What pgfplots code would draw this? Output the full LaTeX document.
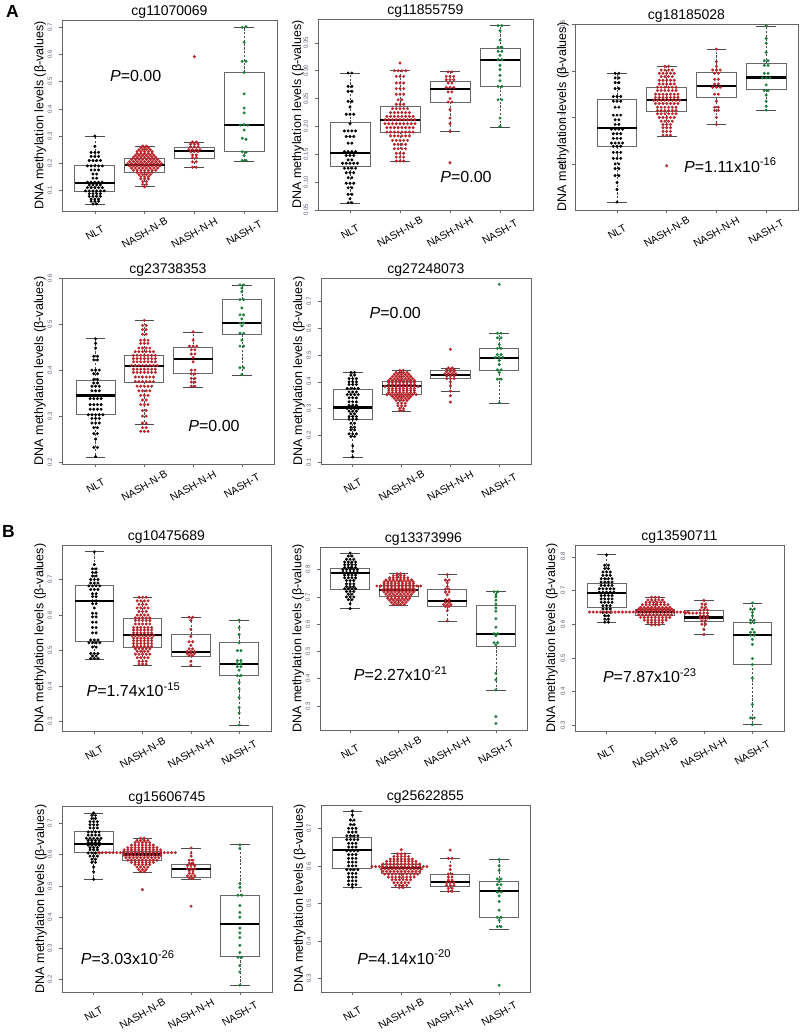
\documentclass[border=0pt]{standalone}
\usepackage{fontspec}
\setmainfont{Liberation Sans}
\usepackage{pgfplots}
\usepackage{pgfplotstable}
\usepgfplotslibrary{statistics}
\pgfplotsset{compat=1.18}
\definecolor{cR}{RGB}{185,36,42}
\definecolor{cG}{RGB}{28,125,60}
\definecolor{boxc}{RGB}{105,105,105}
\definecolor{tickc}{RGB}{90,90,115}
\pgfplotsset{
  table/row sep=\\,
  table/g/.style={x expr={#1+0.0375*\thisrow{k}},y=y},
  pN/.style={only marks,mark=*,mark size=1.3pt,color=black,mark options={solid,draw=none,fill=black}},
  pR/.style={only marks,mark=*,mark size=1.3pt,color=cR,mark options={solid,draw=none,fill=cR}},
  pG/.style={only marks,mark=*,mark size=1.3pt,color=cG,mark options={solid,draw=none,fill=cG}},
  bxs/.style={solid,mark=none,draw=boxc,boxplot/draw direction=y,boxplot/box extend=0.8,boxplot/whisker extend=0,
    boxplot/every box/.style={draw=boxc,line width=0.9pt},
    boxplot/every whisker/.style={draw=black!70,line width=0.6pt,dash pattern=on 2.2pt off 1.6pt},
    boxplot/every median/.style={draw=black,line width=2.2pt}},
  caps/.style={draw=black!70,line width=0.7pt,solid,mark=none,unbounded coords=jump},
  ylab/.style={ylabel style={at={(axis description cs:#1,0.5)}}},
  bp/.style={scale only axis,anchor=north west,clip=false,tick pos=left,
    axis line style={draw=black!60,line width=0.7pt},
    xtick={1,2,3,4},xticklabels={NLT,NASH-N-B,NASH-N-H,NASH-T},
    tick align=outside,major tick length=3pt,tick style={draw=black!60,line width=0.6pt},
    xticklabel style={font=\fontsize{10.5}{12}\selectfont,anchor=center,yshift=-19pt,rotate=30},
    yticklabel style={font=\fontsize{6}{7}\selectfont,text=tickc,xshift=-3.5pt,rotate=90,anchor=south,
      /pgf/number format/fixed,/pgf/number format/fixed zerofill,/pgf/number format/precision=1,/pgf/number format/assume math mode=true},
    ylabel={DNA methylation levels (β-values)},
    ylabel style={font=\fontsize{12.5}{14}\selectfont,anchor=center},
    every axis title/.style={font=\fontsize{14}{16}\selectfont,at={(axis description cs:0.5,1)},anchor=base,yshift=5pt},
  },
}
\newcommand\bx[6]{%
  \addplot[bxs,boxplot prepared={draw position=#1,lower whisker=#2,lower quartile=#3,median=#4,upper quartile=#5,upper whisker=#6}] coordinates {};
  \addplot[caps] table[x expr={#1+\thisrow{d}},y=y]{d y\\-.2 #2\\.2 #2\\0 nan\\-.2 #6\\.2 #6\\};
}
\newcommand\pv[3]{\node[font=\fontsize{16}{18}\selectfont] at (axis cs:#1,#2) {#3};}
\begin{document}
\begin{tikzpicture}
\useasboundingbox (0pt,0pt) rectangle (800pt,-1034pt);
\node[anchor=north west,inner sep=0pt,font=\fontsize{17.5}{18}\selectfont\bfseries] at (6pt,-5pt) {A};
\node[anchor=north west,inner sep=0pt,font=\fontsize{17.5}{18}\selectfont\bfseries] at (2pt,-525pt) {B};

% ---------- P1 ----------
\begin{axis}[bp,ylab=-0.102,at={(62pt,-20pt)},width=215pt,height=191pt,xmin=.34,xmax=4.66,ymin=.024,ymax=.727,ytick={.1,.2,.3,.4,.5,.6,.7},title={cg11070069}]
\addplot[pN] table[g=1]{k y\\0 .300\\0 .262\\-2 .240\\0 .240\\2 .240\\-2 .225\\0 .225\\2 .225\\-3 .210\\-1 .210\\1 .210\\3 .210\\-4 .190\\-2 .190\\0 .190\\2 .190\\4 .190\\-2 .175\\0 .175\\2 .175\\-1 .160\\1 .160\\-1 .145\\1 .145\\-4 .130\\-2 .130\\0 .130\\2 .130\\4 .130\\-3 .120\\-1 .120\\1 .120\\3 .120\\-4 .110\\-2 .110\\0 .110\\2 .110\\4 .110\\-5 .098\\-3 .098\\-1 .098\\1 .098\\3 .098\\5 .098\\-3 .088\\-1 .088\\1 .088\\3 .088\\-3 .078\\-1 .078\\1 .078\\3 .078\\-2 .068\\0 .068\\2 .068\\-2 .060\\0 .060\\2 .060\\-1 .050\\1 .050\\};
\addplot[pR] table[g=2]{k y\\-1 .263\\1 .263\\-2 .257\\0 .257\\2 .257\\-3 .250\\-1 .250\\1 .250\\3 .250\\-4 .243\\-2 .243\\0 .243\\2 .243\\4 .243\\-4 .236\\-2 .236\\0 .236\\2 .236\\4 .236\\-5 .229\\-3 .229\\-1 .229\\1 .229\\3 .229\\5 .229\\-6 .222\\-4 .222\\-2 .222\\0 .222\\2 .222\\4 .222\\6 .222\\-7 .214\\-5 .214\\-3 .214\\-1 .214\\1 .214\\3 .214\\5 .214\\7 .214\\-8 .206\\-6 .206\\-4 .206\\-2 .206\\0 .206\\2 .206\\4 .206\\6 .206\\8 .206\\-9 .198\\-7 .198\\-5 .198\\-3 .198\\-1 .198\\1 .198\\3 .198\\5 .198\\7 .198\\9 .198\\-8 .190\\-6 .190\\-4 .190\\-2 .190\\0 .190\\2 .190\\4 .190\\6 .190\\8 .190\\-7 .182\\-5 .182\\-3 .182\\-1 .182\\1 .182\\3 .182\\5 .182\\7 .182\\-6 .174\\-4 .174\\-2 .174\\0 .174\\2 .174\\4 .174\\6 .174\\-4 .166\\-2 .166\\0 .166\\2 .166\\4 .166\\-3 .158\\-1 .158\\1 .158\\3 .158\\-2 .150\\0 .150\\2 .150\\-2 .142\\0 .142\\2 .142\\-1 .132\\1 .132\\-1 .122\\1 .122\\0 .113\\};
\addplot[pR] table[g=3]{k y\\0 .592\\-1 .278\\1 .278\\-2 .270\\0 .270\\2 .270\\-2 .260\\0 .260\\2 .260\\-3 .250\\-1 .250\\1 .250\\3 .250\\-2 .242\\0 .242\\2 .242\\-1 .230\\1 .230\\-1 .220\\1 .220\\-1 .205\\1 .205\\-1 .185\\1 .185\\};
\addplot[pG] table[g=4]{k y\\-1 .700\\1 .702\\0 .645\\-1 .575\\1 .575\\0 .534\\0 .455\\0 .403\\0 .385\\-2 .340\\0 .342\\2 .340\\0 .322\\-1 .292\\1 .288\\-1 .242\\1 .240\\0 .228\\-1 .210\\1 .210\\};
\bx{1}{.048}{.0975}{.128}{.190}{.300}
\bx{2}{.113}{.166}{.194}{.217}{.263}
\bx{3}{.185}{.218}{.245}{.258}{.278}
\bx{4}{.205}{.2435}{.340}{.534}{.700}
\pv{1.82}{.522}{\textit{P}=0.00}
\end{axis}

% ---------- P2 ----------
\begin{axis}[bp,ylab=-0.093,at={(318pt,-19pt)},width=215pt,height=191pt,xmin=.36,xmax=4.66,ymin=.050,ymax=.393,ytick={.05,.10,.15,.20,.25,.30,.35},yticklabel style={/pgf/number format/precision=2},title={cg11855759}]
\addplot[pN] table[g=1]{k y\\-1 .296\\1 .296\\-1 .272\\1 .272\\-1 .263\\1 .263\\-1 .245\\1 .245\\0 .235\\-2 .222\\0 .222\\2 .222\\0 .205\\-3 .192\\-1 .192\\1 .192\\3 .192\\-2 .182\\0 .182\\2 .182\\-1 .170\\1 .170\\-3 .155\\-1 .155\\1 .155\\3 .155\\-2 .148\\0 .148\\2 .148\\-1 .140\\1 .140\\-4 .134\\-2 .134\\0 .134\\2 .134\\4 .134\\-3 .125\\-1 .125\\1 .125\\3 .125\\-2 .117\\0 .117\\2 .117\\-1 .108\\1 .108\\-2 .098\\0 .098\\2 .098\\-1 .090\\1 .090\\-1 .078\\1 .078\\0 .070\\-1 .063\\1 .063\\};
\addplot[pR] table[g=2]{k y\\0 .314\\-3 .300\\-1 .300\\1 .300\\3 .300\\-2 .290\\0 .290\\2 .290\\-2 .278\\0 .278\\2 .278\\-2 .268\\0 .268\\2 .268\\-2 .258\\0 .258\\2 .258\\-1 .248\\1 .248\\-2 .240\\0 .240\\2 .240\\-4 .232\\-2 .232\\0 .232\\2 .232\\4 .232\\-5 .225\\-3 .225\\-1 .225\\1 .225\\3 .225\\5 .225\\-7 .218\\-5 .218\\-3 .218\\-1 .218\\1 .218\\3 .218\\5 .218\\7 .218\\-8 .212\\-6 .212\\-4 .212\\-2 .212\\0 .212\\2 .212\\4 .212\\6 .212\\8 .212\\-8 .205\\-6 .205\\-4 .205\\-2 .205\\0 .205\\2 .205\\4 .205\\6 .205\\8 .205\\-7 .198\\-5 .198\\-3 .198\\-1 .198\\1 .198\\3 .198\\5 .198\\7 .198\\-7 .190\\-5 .190\\-3 .190\\-1 .190\\1 .190\\3 .190\\5 .190\\7 .190\\-5 .183\\-3 .183\\-1 .183\\1 .183\\3 .183\\5 .183\\-4 .175\\-2 .175\\0 .175\\2 .175\\4 .175\\-3 .168\\-1 .168\\1 .168\\3 .168\\-3 .160\\-1 .160\\1 .160\\3 .160\\-2 .152\\0 .152\\2 .152\\-2 .145\\0 .145\\2 .145\\-2 .138\\0 .138\\2 .138\\};
\addplot[pR] table[g=3]{k y\\-1 .298\\1 .298\\-2 .290\\0 .290\\2 .290\\-2 .284\\0 .284\\2 .284\\-1 .278\\1 .278\\-2 .270\\0 .270\\2 .270\\-1 .262\\1 .262\\0 .250\\-1 .244\\1 .244\\0 .230\\0 .215\\0 .205\\0 .191\\0 .135\\};
\addplot[pG] table[g=4]{k y\\-1 .381\\1 .381\\0 .372\\0 .355\\-1 .342\\1 .342\\-1 .335\\1 .335\\0 .328\\-1 .320\\1 .320\\0 .310\\0 .302\\0 .292\\0 .282\\-1 .272\\1 .272\\-1 .248\\1 .248\\0 .215\\0 .200\\};
\bx{1}{.062}{.128}{.152}{.207}{.296}
\bx{2}{.137}{.190}{.211}{.236}{.301}
\bx{3}{.191}{.244}{.267}{.281}{.299}
\bx{4}{.199}{.272}{.319}{.341}{.381}
\pv{3.32}{.109}{\textit{P}=0.00}
\end{axis}

% ---------- P3 ----------
\begin{axis}[bp,ylab=-0.054,at={(575pt,-24pt)},width=223pt,height=186pt,xmin=.155,xmax=4.64,ymin=.101,ymax=.501,ytick={.2,.3,.4,.5},title={cg18185028}]
\addplot[pN] table[g=1]{k y\\-1 .395\\1 .395\\-1 .385\\1 .385\\-1 .375\\1 .375\\-1 .362\\1 .362\\-2 .345\\0 .345\\2 .345\\-2 .335\\0 .335\\2 .335\\-1 .322\\1 .322\\-2 .305\\0 .305\\2 .305\\-1 .295\\1 .295\\-1 .285\\1 .285\\-3 .275\\-1 .275\\1 .275\\3 .275\\-2 .265\\0 .265\\2 .265\\-2 .255\\0 .255\\2 .255\\-3 .245\\-1 .245\\1 .245\\3 .245\\-2 .238\\0 .238\\2 .238\\-2 .225\\0 .225\\2 .225\\-2 .212\\0 .212\\2 .212\\-1 .200\\1 .200\\-1 .190\\1 .190\\-1 .175\\1 .175\\0 .160\\0 .145\\0 .118\\};
\addplot[pR] table[g=2]{k y\\-1 .410\\1 .410\\-3 .402\\-1 .402\\1 .402\\3 .402\\-4 .395\\-2 .395\\0 .395\\2 .395\\4 .395\\-3 .388\\-1 .388\\1 .388\\3 .388\\-4 .380\\-2 .380\\0 .380\\2 .380\\4 .380\\-4 .372\\-2 .372\\0 .372\\2 .372\\4 .372\\-5 .365\\-3 .365\\-1 .365\\1 .365\\3 .365\\5 .365\\-5 .358\\-3 .358\\-1 .358\\1 .358\\3 .358\\5 .358\\-6 .350\\-4 .350\\-2 .350\\0 .350\\2 .350\\4 .350\\6 .350\\-6 .343\\-4 .343\\-2 .343\\0 .343\\2 .343\\4 .343\\6 .343\\-7 .337\\-5 .337\\-3 .337\\-1 .337\\1 .337\\3 .337\\5 .337\\7 .337\\-6 .330\\-4 .330\\-2 .330\\0 .330\\2 .330\\4 .330\\6 .330\\-5 .322\\-3 .322\\-1 .322\\1 .322\\3 .322\\5 .322\\-5 .315\\-3 .315\\-1 .315\\1 .315\\3 .315\\5 .315\\-5 .308\\-3 .308\\-1 .308\\1 .308\\3 .308\\5 .308\\-4 .300\\-2 .300\\0 .300\\2 .300\\4 .300\\-3 .292\\-1 .292\\1 .292\\3 .292\\-2 .285\\0 .285\\2 .285\\-2 .278\\0 .278\\2 .278\\-2 .270\\0 .270\\2 .270\\-2 .262\\0 .262\\2 .262\\0 .196\\};
\addplot[pR] table[g=3]{k y\\0 .447\\0 .420\\0 .410\\-2 .402\\0 .402\\2 .402\\-1 .395\\1 .395\\-1 .382\\1 .382\\-1 .372\\1 .372\\-2 .365\\0 .365\\2 .365\\-1 .350\\1 .350\\0 .335\\-1 .322\\1 .322\\-1 .315\\1 .315\\0 .300\\0 .285\\};
\addplot[pG] table[g=4]{k y\\0 .497\\0 .470\\0 .460\\0 .440\\-1 .422\\1 .422\\-1 .412\\1 .412\\-1 .395\\1 .395\\-2 .385\\0 .385\\2 .385\\0 .370\\-1 .358\\1 .358\\0 .348\\0 .335\\0 .324\\0 .316\\};
\bx{1}{.118}{.237}{.277}{.339}{.395}
\bx{2}{.259}{.314}{.337}{.365}{.410}
\bx{3}{.285}{.342}{.368}{.396}{.447}
\bx{4}{.316}{.360}{.386}{.416}{.497}
\pv{3.28}{.194}{\textit{P}=1.11x10\smash{\textsuperscript{-16}}}
\end{axis}

% ---------- P4 ----------
\begin{axis}[bp,ylab=-0.104,at={(62pt,-278pt)},width=212pt,height=186pt,xmin=.31,xmax=4.66,ymin=.196,ymax=.600,ytick={.2,.3,.4,.5,.6},title={cg23738353}]
\addplot[pN] table[g=1]{k y\\0 .468\\0 .458\\0 .448\\-1 .430\\1 .430\\-1 .422\\1 .422\\-2 .400\\0 .400\\2 .400\\-1 .392\\1 .392\\-1 .380\\1 .380\\-1 .372\\1 .372\\-2 .365\\0 .365\\2 .365\\-2 .355\\0 .355\\2 .355\\-4 .345\\-2 .345\\0 .345\\2 .345\\4 .345\\-3 .338\\-1 .338\\1 .338\\3 .338\\-3 .325\\-1 .325\\1 .325\\3 .325\\-3 .315\\-1 .315\\1 .315\\3 .315\\-4 .303\\-2 .303\\0 .303\\2 .303\\4 .303\\-2 .295\\0 .295\\2 .295\\-2 .285\\0 .285\\2 .285\\-1 .275\\1 .275\\-1 .262\\1 .262\\0 .250\\-1 .232\\1 .232\\0 .212\\};
\addplot[pR] table[g=2]{k y\\0 .508\\-1 .497\\1 .497\\-1 .488\\1 .488\\-1 .478\\1 .478\\-2 .465\\0 .465\\2 .465\\-2 .458\\0 .458\\2 .458\\-3 .448\\-1 .448\\1 .448\\3 .448\\-5 .440\\-3 .440\\-1 .440\\1 .440\\3 .440\\5 .440\\-6 .432\\-4 .432\\-2 .432\\0 .432\\2 .432\\4 .432\\6 .432\\-6 .425\\-4 .425\\-2 .425\\0 .425\\2 .425\\4 .425\\6 .425\\-6 .418\\-4 .418\\-2 .418\\0 .418\\2 .418\\4 .418\\6 .418\\-7 .410\\-5 .410\\-3 .410\\-1 .410\\1 .410\\3 .410\\5 .410\\7 .410\\-6 .402\\-4 .402\\-2 .402\\0 .402\\2 .402\\4 .402\\6 .402\\-6 .395\\-4 .395\\-2 .395\\0 .395\\2 .395\\4 .395\\6 .395\\-5 .385\\-3 .385\\-1 .385\\1 .385\\3 .385\\5 .385\\-5 .375\\-3 .375\\-1 .375\\1 .375\\3 .375\\5 .375\\-4 .365\\-2 .365\\0 .365\\2 .365\\4 .365\\-3 .355\\-1 .355\\1 .355\\3 .355\\-2 .345\\0 .345\\2 .345\\-1 .335\\1 .335\\-2 .325\\0 .325\\2 .325\\-1 .312\\1 .312\\-1 .300\\1 .300\\-1 .285\\1 .285\\-1 .275\\1 .275\\-2 .267\\0 .267\\2 .267\\};
\addplot[pR] table[g=3]{k y\\0 .483\\0 .465\\-2 .452\\0 .452\\2 .452\\-1 .444\\1 .444\\-1 .435\\1 .435\\0 .427\\0 .418\\-1 .400\\1 .400\\-1 .392\\1 .392\\-1 .382\\1 .382\\-1 .374\\1 .374\\-1 .365\\1 .365\\};
\addplot[pG] table[g=4]{k y\\-1 .585\\1 .585\\0 .578\\0 .570\\-1 .553\\1 .553\\0 .535\\-1 .520\\1 .520\\0 .511\\-1 .502\\1 .502\\0 .496\\-1 .480\\1 .480\\0 .465\\-1 .452\\1 .452\\-1 .405\\1 .405\\0 .390\\};
\bx{1}{.211}{.303}{.345}{.378}{.468}
\bx{2}{.283}{.374}{.409}{.432}{.508}
\bx{3}{.363}{.392}{.424}{.449}{.483}
\bx{4}{.389}{.477}{.502}{.553}{.585}
\pv{3.43}{.278}{\textit{P}=0.00}
\end{axis}

% ---------- P5 ----------
\begin{axis}[bp,ylab=-0.105,at={(321pt,-278pt)},width=210pt,height=186pt,xmin=.35,xmax=4.65,ymin=.092,ymax=.789,ytick={.1,.2,.3,.4,.5,.6,.7},title={cg27248073}]
\addplot[pN] table[g=1]{k y\\-1 .435\\1 .435\\-1 .425\\1 .425\\-2 .412\\0 .412\\2 .412\\-2 .400\\0 .400\\2 .400\\-2 .390\\0 .390\\2 .390\\-3 .375\\-1 .375\\1 .375\\3 .375\\-2 .362\\0 .362\\2 .362\\-3 .352\\-1 .352\\1 .352\\3 .352\\-2 .340\\0 .340\\2 .340\\-2 .325\\0 .325\\2 .325\\-2 .312\\0 .312\\2 .312\\-3 .300\\-1 .300\\1 .300\\3 .300\\-2 .290\\0 .290\\2 .290\\-1 .280\\1 .280\\-2 .270\\0 .270\\2 .270\\-2 .260\\0 .260\\2 .260\\-1 .245\\1 .245\\-1 .230\\1 .230\\-1 .220\\1 .220\\-2 .205\\0 .205\\2 .205\\-1 .195\\1 .195\\0 .160\\0 .140\\0 .118\\};
\addplot[pR] table[g=2]{k y\\-1 .443\\1 .443\\-3 .435\\-1 .435\\1 .435\\3 .435\\-4 .428\\-2 .428\\0 .428\\2 .428\\4 .428\\-5 .420\\-3 .420\\-1 .420\\1 .420\\3 .420\\5 .420\\-6 .412\\-4 .412\\-2 .412\\0 .412\\2 .412\\4 .412\\6 .412\\-7 .405\\-5 .405\\-3 .405\\-1 .405\\1 .405\\3 .405\\5 .405\\7 .405\\-7 .398\\-5 .398\\-3 .398\\-1 .398\\1 .398\\3 .398\\5 .398\\7 .398\\-7 .390\\-5 .390\\-3 .390\\-1 .390\\1 .390\\3 .390\\5 .390\\7 .390\\-9 .383\\-7 .383\\-5 .383\\-3 .383\\-1 .383\\1 .383\\3 .383\\5 .383\\7 .383\\9 .383\\-7 .375\\-5 .375\\-3 .375\\-1 .375\\1 .375\\3 .375\\5 .375\\7 .375\\-7 .368\\-5 .368\\-3 .368\\-1 .368\\1 .368\\3 .368\\5 .368\\7 .368\\-7 .360\\-5 .360\\-3 .360\\-1 .360\\1 .360\\3 .360\\5 .360\\7 .360\\-8 .352\\-6 .352\\-4 .352\\-2 .352\\0 .352\\2 .352\\4 .352\\6 .352\\8 .352\\-5 .345\\-3 .345\\-1 .345\\1 .345\\3 .345\\5 .345\\-4 .338\\-2 .338\\0 .338\\2 .338\\4 .338\\-3 .330\\-1 .330\\1 .330\\3 .330\\-2 .320\\0 .320\\2 .320\\-2 .310\\0 .310\\2 .310\\-1 .300\\1 .300\\-1 .292\\1 .292\\};
\addplot[pR] table[g=3]{k y\\0 .522\\-1 .452\\1 .452\\-2 .445\\0 .445\\2 .445\\-2 .438\\0 .438\\2 .438\\-3 .430\\-1 .430\\1 .430\\3 .430\\-2 .422\\0 .422\\2 .422\\-2 .412\\0 .412\\2 .412\\0 .400\\0 .385\\0 .365\\0 .348\\0 .324\\};
\addplot[pG] table[g=4]{k y\\0 .765\\-1 .582\\1 .582\\-1 .565\\1 .565\\0 .540\\-1 .525\\1 .525\\-1 .502\\1 .502\\-2 .492\\0 .492\\2 .492\\0 .480\\0 .465\\-1 .445\\1 .445\\0 .435\\-1 .410\\1 .410\\0 .321\\};
\bx{1}{.116}{.258}{.304}{.372}{.435}
\bx{2}{.290}{.352}{.383}{.402}{.443}
\bx{3}{.365}{.411}{.425}{.443}{.452}
\bx{4}{.321}{.444}{.489}{.526}{.582}
\pv{1.87}{.659}{\textit{P}=0.00}
\end{axis}

% ---------- P6 ----------
\begin{axis}[bp,ylab=-0.105,at={(62pt,-545pt)},width=209pt,height=186pt,xmin=.33,xmax=4.66,ymin=.274,ymax=.797,ytick={.3,.4,.5,.6,.7},title={cg10475689}]
\addplot[pN] table[g=1]{k y\\0 .778\\0 .742\\-1 .730\\1 .730\\-1 .720\\1 .720\\-1 .710\\1 .710\\-2 .700\\0 .700\\2 .700\\-2 .690\\0 .690\\2 .690\\-3 .682\\-1 .682\\1 .682\\3 .682\\-2 .672\\0 .672\\2 .672\\-1 .660\\1 .660\\-1 .652\\1 .652\\-1 .640\\1 .640\\-1 .632\\1 .632\\0 .620\\-1 .605\\1 .605\\-1 .595\\1 .595\\-1 .580\\1 .580\\-1 .565\\1 .565\\-1 .550\\1 .550\\-2 .530\\0 .530\\2 .530\\-3 .522\\-1 .522\\1 .522\\3 .522\\-1 .510\\1 .510\\-2 .492\\0 .492\\2 .492\\-1 .485\\1 .485\\-2 .478\\0 .478\\2 .478\\};
\addplot[pR] table[g=2]{k y\\-2 .650\\0 .650\\2 .650\\-3 .640\\-1 .640\\1 .640\\3 .640\\-2 .630\\0 .630\\2 .630\\-3 .620\\-1 .620\\1 .620\\3 .620\\-2 .610\\0 .610\\2 .610\\-3 .600\\-1 .600\\1 .600\\3 .600\\-4 .592\\-2 .592\\0 .592\\2 .592\\4 .592\\-4 .585\\-2 .585\\0 .585\\2 .585\\4 .585\\-4 .575\\-2 .575\\0 .575\\2 .575\\4 .575\\-5 .565\\-3 .565\\-1 .565\\1 .565\\3 .565\\5 .565\\-5 .558\\-3 .558\\-1 .558\\1 .558\\3 .558\\5 .558\\-5 .550\\-3 .550\\-1 .550\\1 .550\\3 .550\\5 .550\\-6 .542\\-4 .542\\-2 .542\\0 .542\\2 .542\\4 .542\\6 .542\\-5 .535\\-3 .535\\-1 .535\\1 .535\\3 .535\\5 .535\\-5 .528\\-3 .528\\-1 .528\\1 .528\\3 .528\\5 .528\\-5 .520\\-3 .520\\-1 .520\\1 .520\\3 .520\\5 .520\\-5 .512\\-3 .512\\-1 .512\\1 .512\\3 .512\\5 .512\\-4 .505\\-2 .505\\0 .505\\2 .505\\4 .505\\-3 .498\\-1 .498\\1 .498\\3 .498\\-4 .490\\-2 .490\\0 .490\\2 .490\\4 .490\\-3 .480\\-1 .480\\1 .480\\3 .480\\-2 .470\\0 .470\\2 .470\\-2 .462\\0 .462\\2 .462\\};
\addplot[pR] table[g=3]{k y\\-1 .594\\1 .594\\0 .585\\0 .560\\0 .540\\-1 .525\\1 .525\\0 .515\\-1 .505\\1 .505\\-2 .498\\0 .498\\2 .498\\-2 .492\\0 .492\\2 .492\\-1 .486\\1 .486\\0 .470\\0 .458\\};
\addplot[pG] table[g=4]{k y\\0 .586\\0 .565\\0 .545\\0 .522\\-1 .500\\1 .500\\-1 .472\\1 .472\\-1 .464\\1 .464\\-1 .455\\1 .455\\0 .445\\-1 .430\\1 .430\\0 .410\\0 .392\\0 .368\\0 .340\\0 .325\\0 .291\\};
\bx{1}{.476}{.526}{.639}{.684}{.778}
\bx{2}{.459}{.509}{.544}{.591}{.651}
\bx{3}{.457}{.485}{.497}{.545}{.594}
\bx{4}{.291}{.431}{.462}{.523}{.586}
\pv{1.81}{.386}{\textit{P}=1.74x10\smash{\textsuperscript{-15}}}
\end{axis}

% ---------- P7 ----------
\begin{axis}[bp,ylab=-0.106,at={(320pt,-547pt)},width=207pt,height=183pt,xmin=.38,xmax=4.64,ymin=.212,ymax=.883,ytick={.3,.4,.5,.6,.7,.8},title={cg13373996}]
\addplot[pN] table[g=1]{k y\\0 .861\\-1 .850\\1 .850\\-2 .838\\0 .838\\2 .838\\-3 .828\\-1 .828\\1 .828\\3 .828\\-3 .818\\-1 .818\\1 .818\\3 .818\\-3 .808\\-1 .808\\1 .808\\3 .808\\-4 .800\\-2 .800\\0 .800\\2 .800\\4 .800\\-4 .790\\-2 .790\\0 .790\\2 .790\\4 .790\\-3 .780\\-1 .780\\1 .780\\3 .780\\-3 .770\\-1 .770\\1 .770\\3 .770\\-2 .760\\0 .760\\2 .760\\-2 .748\\0 .748\\2 .748\\-2 .738\\0 .738\\2 .738\\-3 .730\\-1 .730\\1 .730\\3 .730\\-2 .720\\0 .720\\2 .720\\-1 .710\\1 .710\\-2 .700\\0 .700\\2 .700\\-1 .690\\1 .690\\0 .675\\0 .657\\};
\addplot[pR] table[g=2]{k y\\-1 .785\\1 .785\\-3 .778\\-1 .778\\1 .778\\3 .778\\-5 .770\\-3 .770\\-1 .770\\1 .770\\3 .770\\5 .770\\-7 .762\\-5 .762\\-3 .762\\-1 .762\\1 .762\\3 .762\\5 .762\\7 .762\\-8 .755\\-6 .755\\-4 .755\\-2 .755\\0 .755\\2 .755\\4 .755\\6 .755\\8 .755\\-8 .748\\-6 .748\\-4 .748\\-2 .748\\0 .748\\2 .748\\4 .748\\6 .748\\8 .748\\-12 .740\\-10 .740\\-8 .740\\-6 .740\\-4 .740\\-2 .740\\0 .740\\2 .740\\4 .740\\6 .740\\8 .740\\10 .740\\12 .740\\-8 .732\\-6 .732\\-4 .732\\-2 .732\\0 .732\\2 .732\\4 .732\\6 .732\\8 .732\\-9 .725\\-7 .725\\-5 .725\\-3 .725\\-1 .725\\1 .725\\3 .725\\5 .725\\7 .725\\9 .725\\-8 .718\\-6 .718\\-4 .718\\-2 .718\\0 .718\\2 .718\\4 .718\\6 .718\\8 .718\\-7 .710\\-5 .710\\-3 .710\\-1 .710\\1 .710\\3 .710\\5 .710\\7 .710\\-6 .702\\-4 .702\\-2 .702\\0 .702\\2 .702\\4 .702\\6 .702\\-6 .695\\-4 .695\\-2 .695\\0 .695\\2 .695\\4 .695\\6 .695\\-5 .688\\-3 .688\\-1 .688\\1 .688\\3 .688\\5 .688\\-4 .680\\-2 .680\\0 .680\\2 .680\\4 .680\\-3 .672\\-1 .672\\1 .672\\3 .672\\};
\addplot[pR] table[g=3]{k y\\0 .782\\-1 .762\\1 .762\\0 .752\\0 .738\\-1 .728\\1 .728\\-1 .718\\1 .718\\0 .708\\-1 .690\\1 .690\\-1 .680\\1 .680\\-2 .672\\0 .672\\2 .672\\-1 .665\\1 .665\\0 .650\\0 .612\\};
\addplot[pG] table[g=4]{k y\\-1 .719\\1 .719\\0 .708\\0 .700\\0 .688\\0 .674\\0 .660\\0 .648\\0 .620\\0 .589\\-1 .565\\1 .565\\0 .558\\-1 .532\\1 .532\\0 .524\\0 .420\\0 .396\\0 .359\\0 .261\\0 .236\\};
\bx{1}{.657}{.729}{.788}{.806}{.861}
\bx{2}{.669}{.702}{.724}{.741}{.785}
\bx{3}{.612}{.665}{.686}{.726}{.782}
\bx{4}{.359}{.518}{.565}{.670}{.719}
\pv{2.04}{.414}{\textit{P}=2.27x10\smash{\textsuperscript{-21}}}
\end{axis}

% ---------- P8 ----------
\begin{axis}[bp,ylab=-0.11,at={(575pt,-545pt)},width=209pt,height=186pt,xmin=.35,xmax=4.65,ymin=.283,ymax=.835,ytick={.3,.4,.5,.6,.7,.8},title={cg13590711}]
\addplot[pN] table[g=1]{k y\\0 .806\\-1 .775\\1 .775\\-1 .765\\1 .765\\-2 .755\\0 .755\\2 .755\\-2 .745\\0 .745\\2 .745\\-3 .735\\-1 .735\\1 .735\\3 .735\\-3 .725\\-1 .725\\1 .725\\3 .725\\-3 .715\\-1 .715\\1 .715\\3 .715\\-4 .705\\-2 .705\\0 .705\\2 .705\\4 .705\\-4 .695\\-2 .695\\0 .695\\2 .695\\4 .695\\-3 .685\\-1 .685\\1 .685\\3 .685\\-3 .675\\-1 .675\\1 .675\\3 .675\\-3 .665\\-1 .665\\1 .665\\3 .665\\-2 .655\\0 .655\\2 .655\\-2 .645\\0 .645\\2 .645\\-2 .635\\0 .635\\2 .635\\-1 .625\\1 .625\\-1 .615\\1 .615\\-1 .606\\1 .606\\};
\addplot[pR] table[g=2]{k y\\-2 .680\\0 .680\\2 .680\\-4 .672\\-2 .672\\0 .672\\2 .672\\4 .672\\-5 .665\\-3 .665\\-1 .665\\1 .665\\3 .665\\5 .665\\-7 .658\\-5 .658\\-3 .658\\-1 .658\\1 .658\\3 .658\\5 .658\\7 .658\\-8 .650\\-6 .650\\-4 .650\\-2 .650\\0 .650\\2 .650\\4 .650\\6 .650\\8 .650\\-9 .645\\-7 .645\\-5 .645\\-3 .645\\-1 .645\\1 .645\\3 .645\\5 .645\\7 .645\\9 .645\\-10 .640\\-8 .640\\-6 .640\\-4 .640\\-2 .640\\0 .640\\2 .640\\4 .640\\6 .640\\8 .640\\10 .640\\-36 .636\\-34 .636\\-32 .636\\-30 .636\\-28 .636\\-26 .636\\-24 .636\\-22 .636\\-20 .636\\-18 .636\\-16 .636\\-14 .636\\-12 .636\\-10 .636\\-8 .636\\-6 .636\\-4 .636\\-2 .636\\0 .636\\2 .636\\4 .636\\6 .636\\8 .636\\10 .636\\12 .636\\14 .636\\16 .636\\18 .636\\-9 .628\\-7 .628\\-5 .628\\-3 .628\\-1 .628\\1 .628\\3 .628\\5 .628\\7 .628\\9 .628\\-8 .620\\-6 .620\\-4 .620\\-2 .620\\0 .620\\2 .620\\4 .620\\6 .620\\8 .620\\-6 .612\\-4 .612\\-2 .612\\0 .612\\2 .612\\4 .612\\6 .612\\-4 .605\\-2 .605\\0 .605\\2 .605\\4 .605\\-2 .598\\0 .598\\2 .598\\};
\addplot[pR] table[g=3]{k y\\0 .671\\-1 .660\\1 .660\\-1 .650\\1 .650\\-2 .642\\0 .642\\2 .642\\-10 .633\\-8 .633\\-6 .633\\-4 .633\\-2 .633\\0 .633\\2 .633\\-2 .625\\0 .625\\2 .625\\-2 .618\\0 .618\\2 .618\\-1 .610\\1 .610\\-1 .600\\1 .600\\0 .585\\0 .569\\};
\addplot[pG] table[g=4]{k y\\0 .663\\-1 .645\\1 .645\\0 .635\\0 .625\\-1 .612\\1 .612\\-1 .604\\1 .604\\0 .585\\-1 .576\\1 .576\\-1 .567\\1 .567\\0 .555\\0 .540\\0 .498\\0 .480\\0 .440\\0 .362\\-1 .322\\1 .322\\0 .302\\};
\bx{1}{.606}{.650}{.693}{.720}{.806}
\bx{2}{.600}{.625}{.637}{.644}{.681}
\bx{3}{.569}{.608}{.620}{.642}{.671}
\bx{4}{.302}{.481}{.569}{.605}{.663}
\pv{1.89}{.442}{\textit{P}=7.87x10\smash{\textsuperscript{-23}}}
\end{axis}

% ---------- P9 ----------
\begin{axis}[bp,ylab=-0.10,at={(62pt,-806pt)},width=210pt,height=186pt,xmin=.35,xmax=4.66,ymin=.161,ymax=.755,ytick={.2,.3,.4,.5,.6,.7},title={cg15606745}]
\addplot[pN] table[g=1]{k y\\0 .733\\-1 .725\\1 .725\\-1 .715\\1 .715\\-2 .705\\0 .705\\2 .705\\-2 .695\\0 .695\\2 .695\\-2 .685\\0 .685\\2 .685\\-3 .672\\-1 .672\\1 .672\\3 .672\\-3 .662\\-1 .662\\1 .662\\3 .662\\-4 .652\\-2 .652\\0 .652\\2 .652\\4 .652\\-3 .645\\-1 .645\\1 .645\\3 .645\\-3 .638\\-1 .638\\1 .638\\3 .638\\-3 .630\\-1 .630\\1 .630\\3 .630\\-2 .622\\0 .622\\2 .622\\-2 .615\\0 .615\\2 .615\\-3 .605\\-1 .605\\1 .605\\3 .605\\-2 .595\\0 .595\\2 .595\\-1 .585\\1 .585\\-1 .575\\1 .575\\0 .560\\0 .545\\0 .521\\};
\addplot[pR] table[g=2]{k y\\-1 .652\\1 .652\\-3 .645\\-1 .645\\1 .645\\3 .645\\-4 .638\\-2 .638\\0 .638\\2 .638\\4 .638\\-6 .630\\-4 .630\\-2 .630\\0 .630\\2 .630\\4 .630\\6 .630\\-8 .622\\-6 .622\\-4 .622\\-2 .622\\0 .622\\2 .622\\4 .622\\6 .622\\8 .622\\-10 .615\\-8 .615\\-6 .615\\-4 .615\\-2 .615\\0 .615\\2 .615\\4 .615\\6 .615\\8 .615\\10 .615\\-24 .606\\-22 .606\\-20 .606\\-18 .606\\-16 .606\\-14 .606\\-12 .606\\-10 .606\\-8 .606\\-6 .606\\-4 .606\\-2 .606\\0 .606\\2 .606\\4 .606\\6 .606\\8 .606\\10 .606\\12 .606\\14 .606\\16 .606\\18 .606\\-10 .598\\-8 .598\\-6 .598\\-4 .598\\-2 .598\\0 .598\\2 .598\\4 .598\\6 .598\\8 .598\\10 .598\\-9 .590\\-7 .590\\-5 .590\\-3 .590\\-1 .590\\1 .590\\3 .590\\5 .590\\7 .590\\9 .590\\-8 .582\\-6 .582\\-4 .582\\-2 .582\\0 .582\\2 .582\\4 .582\\6 .582\\8 .582\\-6 .575\\-4 .575\\-2 .575\\0 .575\\2 .575\\4 .575\\6 .575\\-4 .568\\-2 .568\\0 .568\\2 .568\\4 .568\\-3 .560\\-1 .560\\1 .560\\3 .560\\-2 .552\\0 .552\\2 .552\\-1 .545\\1 .545\\0 .488\\};
\addplot[pR] table[g=3]{k y\\0 .621\\0 .605\\0 .595\\-1 .582\\1 .582\\-1 .572\\1 .572\\-2 .565\\0 .565\\2 .565\\-2 .555\\0 .555\\2 .555\\-1 .548\\1 .548\\-1 .540\\1 .540\\-2 .532\\0 .532\\2 .532\\-1 .525\\1 .525\\0 .435\\};
\addplot[pG] table[g=4]{k y\\0 .631\\0 .620\\0 .507\\0 .495\\-1 .470\\1 .470\\0 .437\\0 .415\\0 .400\\0 .365\\0 .350\\0 .335\\0 .310\\0 .287\\-1 .272\\1 .272\\0 .245\\0 .225\\0 .183\\};
\bx{1}{.521}{.606}{.634}{.675}{.733}
\bx{2}{.544}{.581}{.600}{.611}{.652}
\bx{3}{.521}{.528}{.553}{.568}{.621}
\bx{4}{.183}{.274}{.377}{.468}{.631}
\pv{1.70}{.267}{\textit{P}=3.03x10\smash{\textsuperscript{-26}}}
\end{axis}

% ---------- P10 ----------
\begin{axis}[bp,ylab=-0.102,at={(321pt,-805pt)},width=209pt,height=187pt,xmin=.36,xmax=4.63,ymin=.264,ymax=.762,ytick={.3,.4,.5,.6,.7},title={cg25622855}]
\addplot[pN] table[g=1]{k y\\0 .746\\0 .735\\-1 .722\\1 .722\\-1 .710\\1 .710\\-2 .700\\0 .700\\2 .700\\-2 .690\\0 .690\\2 .690\\-3 .680\\-1 .680\\1 .680\\3 .680\\-3 .670\\-1 .670\\1 .670\\3 .670\\-2 .660\\0 .660\\2 .660\\-2 .650\\0 .650\\2 .650\\-3 .640\\-1 .640\\1 .640\\3 .640\\-2 .630\\0 .630\\2 .630\\-2 .620\\0 .620\\2 .620\\-2 .610\\0 .610\\2 .610\\-2 .600\\0 .600\\2 .600\\-3 .590\\-1 .590\\1 .590\\3 .590\\-2 .580\\0 .580\\2 .580\\-2 .570\\0 .570\\2 .570\\-2 .560\\0 .560\\2 .560\\-2 .550\\0 .550\\2 .550\\0 .543\\};
\addplot[pR] table[g=2]{k y\\0 .643\\-2 .632\\0 .632\\2 .632\\-4 .625\\-2 .625\\0 .625\\2 .625\\4 .625\\-6 .618\\-4 .618\\-2 .618\\0 .618\\2 .618\\4 .618\\6 .618\\-8 .612\\-6 .612\\-4 .612\\-2 .612\\0 .612\\2 .612\\4 .612\\6 .612\\8 .612\\-10 .605\\-8 .605\\-6 .605\\-4 .605\\-2 .605\\0 .605\\2 .605\\4 .605\\6 .605\\8 .605\\10 .605\\-16 .598\\-14 .598\\-12 .598\\-10 .598\\-8 .598\\-6 .598\\-4 .598\\-2 .598\\0 .598\\2 .598\\4 .598\\6 .598\\8 .598\\10 .598\\12 .598\\14 .598\\-11 .592\\-9 .592\\-7 .592\\-5 .592\\-3 .592\\-1 .592\\1 .592\\3 .592\\5 .592\\7 .592\\9 .592\\11 .592\\-10 .585\\-8 .585\\-6 .585\\-4 .585\\-2 .585\\0 .585\\2 .585\\4 .585\\6 .585\\8 .585\\10 .585\\-9 .578\\-7 .578\\-5 .578\\-3 .578\\-1 .578\\1 .578\\3 .578\\5 .578\\7 .578\\9 .578\\-7 .570\\-5 .570\\-3 .570\\-1 .570\\1 .570\\3 .570\\5 .570\\7 .570\\-5 .563\\-3 .563\\-1 .563\\1 .563\\3 .563\\5 .563\\-4 .555\\-2 .555\\0 .555\\2 .555\\4 .555\\-3 .548\\-1 .548\\1 .548\\3 .548\\-1 .542\\1 .542\\};
\addplot[pR] table[g=3]{k y\\0 .642\\-1 .620\\1 .620\\0 .600\\0 .590\\-1 .578\\1 .578\\-1 .570\\1 .570\\-1 .562\\1 .562\\-2 .555\\0 .555\\2 .555\\-2 .548\\0 .548\\2 .548\\-1 .540\\1 .540\\-1 .532\\1 .532\\};
\addplot[pG] table[g=4]{k y\\0 .617\\0 .600\\0 .588\\-1 .565\\1 .565\\0 .558\\-1 .550\\1 .550\\0 .540\\-1 .530\\1 .530\\0 .520\\0 .505\\0 .482\\-1 .463\\1 .463\\0 .455\\-1 .438\\1 .438\\0 .282\\};
\bx{1}{.543}{.593}{.642}{.676}{.746}
\bx{2}{.542}{.580}{.595}{.604}{.632}
\bx{3}{.531}{.546}{.556}{.577}{.620}
\bx{4}{.432}{.463}{.534}{.558}{.617}
\pv{2.06}{.353}{\textit{P}=4.14x10\smash{\textsuperscript{-20}}}
\end{axis}
\end{tikzpicture}
\end{document}
